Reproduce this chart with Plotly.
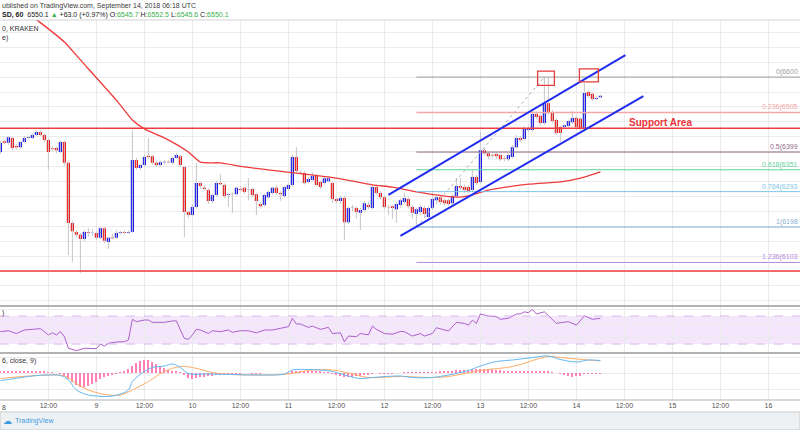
import plotly.graph_objects as go
import pandas as pd

START = pd.Timestamp("2018-09-08 00:00")

# ---------------- hourly BTC/USD candles ----------------
opens = [6399,6428,6424,6437,6415,6412,6426,6437,6437,6445,
         6453,6445,6431,6410,6410,6399,6426,6370,6209,6185,
         6177,6166,6184,6182,6182,6169,6195,6158,6170,6169,
         6182,6185,6183,6185,6378,6356,6364,6389,6388,6370,
         6364,6372,6373,6370,6383,6388,6359,6238,6230,6252,
         6316,6303,6297,6268,6284,6316,6311,6284,6286,6286,
         6300,6303,6297,6300,6286,6260,6257,6278,6289,6303,
         6289,6281,6300,6311,6386,6345,6343,6319,6324,6335,
         6319,6316,6321,6316,6273,6268,6276,6211,6249,6249,
         6236,6244,6257,6249,6305,6289,6278,6252,6254,6246,
         6257,6265,6273,6252,6233,6238,6249,6225,6249,6270,
         6278,6270,6270,6262,6281,6308,6305,6305,6297,6332,
         6319,6404,6396,6391,6394,6391,6383,6380,6386,6412,
         6437,6434,6458,6458,6501,6496,6477,6530,6506,6485,
         6466,6466,6469,6479,6490,6488,6463,6560,6555,6541,
         6545.7]
highs = [6428,6432,6442,6440,6420,6430,6442,6443,6450,6458,
         6458,6448,6434,6415,6414,6431,6430,6376,6214,6190,
         6182,6190,6195,6192,6187,6198,6198,6172,6180,6190,
         6188,6190,6189,6458,6384,6368,6392,6437,6392,6374,
         6376,6378,6377,6386,6396,6392,6362,6242,6260,6370,
         6320,6310,6302,6288,6322,6340,6315,6290,6291,6306,
         6306,6306,6329,6304,6290,6265,6288,6296,6306,6310,
         6294,6308,6315,6392,6412,6350,6348,6332,6345,6340,
         6322,6334,6334,6320,6278,6282,6282,6254,6258,6254,
         6250,6268,6266,6310,6312,6294,6282,6258,6258,6265,
         6275,6290,6278,6256,6250,6258,6254,6254,6290,6282,
         6283,6275,6274,6286,6330,6330,6312,6310,6350,6338,
         6453,6410,6400,6396,6398,6394,6388,6396,6418,6445,
         6442,6468,6470,6512,6508,6500,6600,6598,6512,6490,
         6470,6474,6486,6510,6495,6492,6584,6565,6558,6548,
         6552.5]
lows = [6394,6420,6418,6404,6406,6409,6424,6433,6434,6442,
        6442,6426,6351,6402,6396,6396,6362,6123,6104,6170,
        6075,6160,6172,6175,6164,6166,6155,6139,6165,6166,
        6178,6179,6179,6183,6352,6350,6360,6380,6366,6359,
        6360,6366,6368,6366,6380,6360,6171,6222,6226,6248,
        6300,6296,6260,6262,6280,6310,6276,6252,6236,6282,
        6294,6286,6270,6278,6230,6248,6252,6274,6284,6284,
        6268,6276,6296,6306,6344,6338,6312,6314,6320,6306,
        6300,6312,6318,6262,6262,6260,6163,6206,6240,6220,
        6190,6240,6246,6244,6284,6272,6246,6230,6220,6210,
        6250,6260,6248,6220,6198,6230,6226,6215,6244,6265,
        6258,6255,6254,6256,6276,6298,6290,6288,6292,6310,
        6314,6390,6380,6384,6380,6374,6374,6374,6382,6408,
        6426,6430,6452,6454,6488,6470,6472,6500,6476,6444,
        6426,6460,6464,6474,6460,6456,6458,6544,6536,6538,
        6545.6]
closes = [6423,6424,6439,6410,6412,6426,6437,6439,6445,6453,
          6445,6431,6399,6408,6404,6426,6370,6209,6187,6177,
          6166,6185,6182,6183,6169,6195,6161,6169,6168,6182,
          6184,6183,6185,6378,6356,6364,6386,6386,6370,6364,
          6372,6373,6372,6383,6391,6364,6238,6230,6252,6316,
          6308,6300,6268,6284,6316,6313,6281,6286,6285,6303,
          6297,6292,6298,6284,6268,6254,6284,6292,6303,6289,
          6286,6305,6311,6386,6348,6344,6316,6327,6335,6311,
          6305,6329,6329,6273,6268,6276,6211,6249,6250,6238,
          6244,6262,6252,6305,6289,6278,6252,6251,6249,6260,
          6270,6276,6254,6236,6246,6252,6233,6249,6273,6278,
          6265,6262,6260,6281,6308,6303,6297,6294,6332,6316,
          6404,6396,6388,6390,6388,6380,6382,6391,6412,6437,
          6431,6463,6463,6501,6493,6477,6530,6504,6482,6450,
          6450,6471,6482,6490,6466,6463,6557,6549,6541,6544,
          6550.1]

# ---------------- moving average (hours since start, price) ----------------
ma_hours = [5, 9.5, 16, 20, 29, 33, 36, 41, 47, 50, 55, 61, 72, 84, 93, 98,
            104, 111, 115, 118, 122, 132, 140, 145, 150]
ma_values = [6785, 6750, 6694, 6646, 6538, 6485, 6461, 6437, 6399, 6372, 6370,
             6359, 6345, 6329, 6311, 6305, 6292, 6281, 6278, 6284, 6297, 6313,
             6319, 6329, 6346]

# ---------------- RSI ----------------
rsi_hours = [0, 2, 4, 6, 8, 10, 11, 12, 13, 14, 15, 16, 17, 18, 19, 21, 22, 24, 25,
             26, 27, 29, 31, 32, 33, 34, 36, 37, 38, 41, 43, 44, 45, 46, 47, 48, 49,
             50, 52, 53, 55, 57, 58, 60, 62, 64, 66, 68, 70, 72, 73, 74, 75, 77, 78,
             80, 82, 83, 85, 86, 87, 89, 90, 92, 93, 94, 96, 98, 100, 101, 103, 105,
             106, 108, 109, 112, 114, 116, 117, 118, 119, 120, 122, 124, 125, 127,
             129, 130, 131, 132, 133, 134, 136, 139, 140, 142, 144, 146, 148, 150]
rsi_values = [47.6, 49, 45, 50, 51, 52, 47.6, 43, 46, 43, 47.6, 40.5, 24, 22.4, 20.5,
              24, 24, 23.3, 30, 27, 31, 32.9, 33.3, 35.7, 65.3, 61.9, 64.3, 64.3, 61,
              61, 63, 63, 50, 38, 36.7, 43, 51, 50, 45, 49, 47.6, 50, 46.7, 49, 49, 46,
              50, 50, 52.4, 54.8, 66.7, 58.6, 58.6, 53.8, 55.7, 51, 53.8, 45, 46, 33.3,
              41.4, 40.5, 45, 43, 55.7, 51, 45, 44, 48, 47.6, 41.4, 45, 41.4, 45, 53.3,
              48.6, 61, 59.5, 57, 64, 59.5, 72.9, 70, 69, 65.3, 66.7, 72.9, 72.9, 76,
              74.8, 79.5, 72.9, 76, 59.5, 60.5, 61.9, 57, 70.4, 65.3, 66.7]

# ---------------- MACD ----------------
macd_hours = [0, 2, 8, 12, 15, 17, 19, 22, 24, 28, 32, 33, 36, 38, 41, 43, 45, 47,
              52, 58, 65, 71, 73, 77, 80, 83, 87, 90, 93, 100, 103, 108, 112, 117,
              120, 124, 128, 133, 137, 140, 144, 147, 150]
macd_values = [-15, -13, -6, -4, -5, -14, -34, -44, -46, -46, -34, -17, 3, 11, 14,
               18, 11, -1, -2, -3, -4, -2, 6, 7, 6, 3, -6, -11, -9, -6, -9, -9, -4,
               5, 14, 23, 26, 31, 34, 27, 22, 26, 25]
signal_hours = [0, 12, 16, 19, 22, 27, 30, 33, 37, 41, 45, 48, 53, 58, 67, 73, 77,
                83, 88, 92, 100, 108, 112, 120, 128, 137, 140, 144, 147, 150]
signal_values = [-11, -4, -6, -21, -34, -44, -44, -34, -17, 3, 13, 11, 1, -3, -4, -1,
                 5, 6, -2, -9, -7, -9, -7, 5, 13, 33, 31, 28, 26, 24]
hist_values = [3, 4, 4, 5, 5, 5, 4, 4, 5, 4, 4, 3,
               2, 1, 0, -1,
               -5, -12, -18, -23, -27, -28, -26, -22, -17, -12, -8, -5, -3,
               -1, 2, 5, 9, 15, 20, 24, 26, 26, 23, 19, 14, 10, 7, 5, 4,
               2, -3,
               -10, -11, -9, -8, -7, -6, -5, -4, -3,
               -2, -2, -1, -1, -1, 0, 0, -1, -1, -1, 0, 0, 0, 0, 0, 0, 1,
               4, 5, 5, 5, 4, 4, 3, 3, 2,
               1, -1, -3, -5, -7, -8, -7, -6, -5, -4, -3,
               -1, 0, -1, -1, -1, -1, 0, 0,
               1, 1, 1, 1, 1, 2, 2, 2, 2,
               3, 4, 4, 5, 6, 6, 7, 7, 8, 8,
               9, 9, 9, 8, 7, 6, 5, 4, 4,
               3, 3, 3, 3, 3, 3, 3, 3, 3, 2,
               0, -2, -4, -6, -7, -6, -5,
               -2, -1, -1, -1, -1]

# ---------------- drawings / labels ----------------
tick_labels = ["8", "12:00", "9", "12:00", "10", "12:00", "11", "12:00", "12",
               "12:00", "13", "12:00", "14", "12:00", "15", "12:00", "16"]
fib_labels = ["0(6600", "0.236(6505", "0.5(6399", "0.618(6351", "0.764(6293", "1(6198", "1.236(6103"]
fib_prices = [6600.0, 6505.1, 6399.0, 6351.6, 6292.9, 6198.0, 6103.1]
fib_colors = ["#9e9e9e", "#f3a6a6", "#8e6a87", "#5fd39a", "#7cc6ea", "#8aaed2", "#b687dc"]
fib_start_hour = 104
fib_swing = ([104, 136], [6198.0, 6600.0])
resistance_price = 6463
support_low_price = 6080
channel_upper = ([97, 156.25], [6284, 6659])
channel_lower = ([100, 160.75], [6174, 6549])
boxes = [([134.3, 138.5], [6578, 6616]), ([144.75, 149.5], [6587, 6622])]
support_label = (156.6, 6479)

H = 430.0
def T(h):
    return START + pd.Timedelta(hours=h)
def py(px):
    return 1 - px / H

times = [T(i) for i in range(len(opens))]
FONT = "Liberation Sans"
BLUE = "#1c1ced"
RED = "#ec1c1c"

fig = go.Figure()

# wicks (grey)
wx, wy = [], []
for t, hi, lo in zip(times, highs, lows):
    wx += [t, t, None]
    wy += [lo, hi, None]
fig.add_trace(go.Scatter(x=wx, y=wy, mode="lines", line=dict(color="#c6c6c6", width=1),
                         hoverinfo="skip", xaxis="x", yaxis="y"))
fig.add_trace(go.Candlestick(x=times, open=opens, high=highs, low=lows, close=closes,
                             increasing=dict(fillcolor=BLUE, line=dict(color=BLUE, width=0)),
                             decreasing=dict(fillcolor=RED, line=dict(color=RED, width=0)),
                             whiskerwidth=0, xaxis="x", yaxis="y"))
fig.add_trace(go.Scatter(x=[T(h) for h in ma_hours], y=ma_values, mode="lines",
                         line=dict(color="#ee3b3b", width=1.3, shape="spline", smoothing=0.6),
                         xaxis="x", yaxis="y"))

# RSI
fig.add_trace(go.Scatter(x=[T(h) for h in rsi_hours], y=rsi_values, mode="lines",
                         line=dict(color="#ad5fcb", width=1), xaxis="x2", yaxis="y2"))

# MACD
fig.add_trace(go.Bar(x=times, y=hist_values, marker=dict(color="#ff80b8", line=dict(width=0)),
                     width=0.25 * 3600000, xaxis="x3", yaxis="y3"))
fig.add_trace(go.Scatter(x=[T(h) for h in signal_hours], y=signal_values, mode="lines",
                         line=dict(color="#ffab63", width=1, shape="spline"), xaxis="x3", yaxis="y3"))
fig.add_trace(go.Scatter(x=[T(h) for h in macd_hours], y=macd_values, mode="lines",
                         line=dict(color="#62b8f3", width=1, shape="spline"), xaxis="x3", yaxis="y3"))

shapes = []
shapes.append(dict(type="rect", xref="paper", yref="y2", x0=0, x1=1, y0=30, y1=70,
                   fillcolor="#f4e7fc", line=dict(width=0), layer="below"))
for lvl in (30, 70):
    shapes.append(dict(type="line", xref="paper", yref="y2", x0=0, x1=1, y0=lvl, y1=lvl,
                       line=dict(color="#d9b8ee", width=1, dash="dash")))
for p, c in zip(fib_prices, fib_colors):
    shapes.append(dict(type="line", xref="x", yref="y", x0=T(fib_start_hour), x1=T(210),
                       y0=p, y1=p, line=dict(color=c, width=1.6 if c == "#f3a6a6" else 1)))
shapes.append(dict(type="line", xref="x", yref="y", x0=T(fib_swing[0][0]), x1=T(fib_swing[0][1]),
                   y0=fib_swing[1][0], y1=fib_swing[1][1],
                   line=dict(color="#b3b3b3", width=1, dash="dot")))
for p in (resistance_price, support_low_price):
    shapes.append(dict(type="line", xref="paper", yref="y", x0=0, x1=1, y0=p, y1=p,
                       line=dict(color="#f03c3c", width=1.6)))
for ch in (channel_upper, channel_lower):
    shapes.append(dict(type="line", xref="x", yref="y", x0=T(ch[0][0]), x1=T(ch[0][1]),
                       y0=ch[1][0], y1=ch[1][1], line=dict(color="#1f2cf0", width=2)))
for bx, by in boxes:
    shapes.append(dict(type="rect", xref="x", yref="y", x0=T(bx[0]), x1=T(bx[1]),
                       y0=by[0], y1=by[1], line=dict(color="#e53c3c", width=1.3)))
shapes.append(dict(type="line", xref="paper", yref="paper", x0=0, x1=1, y0=py(20), y1=py(20),
                   line=dict(color="#d2d2d2", width=1)))
for yy in (306, 353):
    shapes.append(dict(type="line", xref="paper", yref="paper", x0=0, x1=1, y0=py(yy), y1=py(yy),
                       line=dict(color="#b2b2b2", width=2)))
shapes.append(dict(type="line", xref="paper", yref="paper", x0=0, x1=1, y0=py(400), y1=py(400),
                   line=dict(color="#b2b2b2", width=1)))
shapes.append(dict(type="rect", xref="paper", yref="paper", x0=0, x1=1, y0=0, y1=py(412),
                   fillcolor="#eef1f4", line=dict(color="#c9c9c9", width=1)))

ann = []
def label(x, y, text, size=7, color="#333", anchor="left"):
    ann.append(dict(xref="paper", yref="paper", x=x / 800, y=py(y), xanchor=anchor,
                    yanchor="middle", text=text, showarrow=False,
                    font=dict(family=FONT, size=size, color=color)))

label(0, 5.5, "ublished on TradingView.com, September 14, 2018 06:18 UTC", color="#3a3a3a")
G = "#35b34a"
label(0, 14.5, ("<b>SD, 60</b>  6550.1 <span style='color:%s'>▲</span> +63.0 (+0.97%%) "
                "O:<span style='color:%s'>6545.7</span> H:<span style='color:%s'>6552.5</span> "
                "L:<span style='color:%s'>6545.6</span> C:<span style='color:%s'>6550.1</span>")
      % (G, G, G, G, G), color="#222")
label(0, 29, "0, KRAKEN")
label(0, 38, "e)")
label(0, 313, ")")
label(0, 361, "6, close, 9)")
label(0, 407, "8", color="#505050")
for t, p, c in zip(fib_labels, fib_prices, fib_colors):
    ann.append(dict(xref="paper", yref="y", x=1.0, y=p, xanchor="right", yanchor="bottom",
                    text=t, showarrow=False, font=dict(family=FONT, size=7, color=c), yshift=-1))
ann.append(dict(xref="x", yref="y", x=T(support_label[0]), y=support_label[1], xanchor="left",
                yanchor="middle", text="<b>Support Area</b>", showarrow=False,
                font=dict(family=FONT, size=10, color="#e8343a")))
ann.append(dict(xref="paper", yref="paper", x=1 / 800, y=py(421), xanchor="left", yanchor="middle",
                text="☁", showarrow=False, font=dict(family="DejaVu Sans", size=9, color="#3d9be0")))
label(13, 421, "TradingView", color="#3d9be0")

tickvals = [T(12 * k) for k in range(len(tick_labels))]
ticktext = [""] + tick_labels[1:]
xr = [T(-0.1), T(199.9)]
grid = "#ebebeb"
common_x = dict(type="date", range=xr, tickmode="array", tickvals=tickvals, showgrid=True,
                gridcolor=grid, gridwidth=1, zeroline=False, showline=False, ticks="",
                fixedrange=True)

fig.update_layout(
    width=800, height=430, margin=dict(l=0, r=0, t=0, b=0),
    paper_bgcolor="white", plot_bgcolor="white", showlegend=False,
    boxgap=0.1, boxgroupgap=0.1, bargap=0,
    xaxis=dict(common_x, domain=[0, 1], anchor="y", showticklabels=False,
               rangeslider=dict(visible=False)),
    xaxis2=dict(common_x, domain=[0, 1], anchor="y2", showticklabels=False),
    xaxis3=dict(common_x, domain=[0, 1], anchor="y3", showticklabels=True, ticktext=ticktext,
                tickfont=dict(family=FONT, size=7, color="#505050")),
    yaxis=dict(domain=[py(305), py(20)], range=[5989, 6753], dtick=40, tick0=0,
               showticklabels=False, gridcolor=grid, zeroline=False, ticks="", fixedrange=True),
    yaxis2=dict(domain=[py(352), py(307)], range=[18.6, 82.9], tickmode="array",
                tickvals=[20, 40, 60, 80], showticklabels=False, gridcolor=grid, zeroline=False,
                ticks="", fixedrange=True),
    yaxis3=dict(domain=[py(400), py(355)], range=[-54, 36], tickmode="array",
                tickvals=[-32, 0, 32], showticklabels=False, gridcolor=grid, zeroline=False,
                ticks="", fixedrange=True),
    shapes=shapes, annotations=ann,
)

fig.write_html("out.html", config={"displayModeBar": False},
               post_script="document.body.style.margin='0';document.body.style.overflow='hidden';")
